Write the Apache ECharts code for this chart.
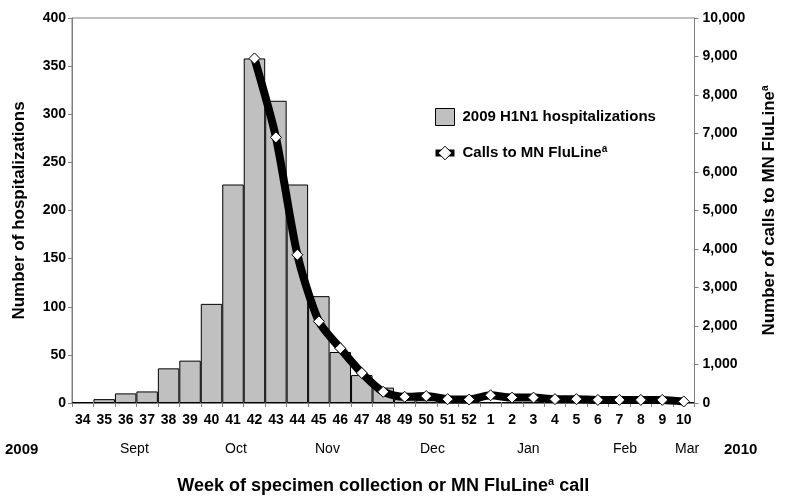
<!DOCTYPE html>
<html>
<head>
<meta charset="utf-8">
<script src="https://cdn.jsdelivr.net/npm/echarts@6/dist/echarts.min.js"></script>
<style>
  html, body { margin: 0; padding: 0; background: #fff; }
  #chart { width: 786px; height: 503px; }
</style>
</head>
<body>
<div id="chart"></div>
<script>
// week numbers (2009 week 34 through 2010 week 10)
const weeks = ["34", "35", "36", "37", "38", "39", "40", "41", "42", "43", "44", "45", "46", "47", "48", "49", "50", "51", "52", "1", "2", "3", "4", "5", "6", "7", "8", "9", "10"];

// hospitalizations per week
const hospitalizations = [1, 4, 10, 12, 36, 44, 103, 227, 358, 314, 227, 111, 53, 29, 16, 4, 3, 2, 2, 1, 1, 1, 1, 1, 1, 1, 1, 1, 1];

// calls to MN FluLine per week (line starts at week 42)
const flulineCalls = [null, null, null, null, null, null, null, null, 8950, 6900, 3850, 2120, 1420, 780, 290, 160, 180, 100, 90, 200, 140, 140, 100, 100, 80, 80, 80, 80, 40];

const leftTicks = [0, 400, 50];
const rightTicks = [0, 10000, 1000];

// month labels under the week row
const months = [
  { text: "2009", x: 5, bold: true },
  { text: "Sept", x: 120 },
  { text: "Oct", x: 225 },
  { text: "Nov", x: 315 },
  { text: "Dec", x: 420 },
  { text: "Jan", x: 517 },
  { text: "Feb", x: 613 },
  { text: "Mar", x: 675 },
  { text: "2010", x: 724, bold: true }
];

const font = "Liberation Sans, Arial, sans-serif";

let chart = echarts.init(document.getElementById("chart"));

let option = {
  animation: false,
  textStyle: { fontFamily: font },
  grid: {
    left: 72,
    right: 86,
    top: 18,
    bottom: 100,
    show: true,
    borderColor: "#808080",
    borderWidth: 1
  },
  legend: {
    orient: "vertical",
    left: 427,
    top: 103,
    itemGap: 18,
    itemWidth: 19,
    itemHeight: 17,
    textStyle: { fontSize: 15, fontWeight: "bold", color: "#000", fontFamily: font, padding: [0, 0, 0, 3],
      rich: {
        s: { fontSize: 10, fontWeight: "bold", verticalAlign: "top", padding: [0, 0, 8, 0] }
      }
    },
    formatter: function (name) {
      return name === "calls" ? "Calls to MN FluLine{s|a}" : "2009 H1N1 hospitalizations";
    },
    data: [
      { name: "hosp", icon: "rect", itemStyle: { color: "#c0c0c0", borderColor: "#000", borderWidth: 1 } },
      { name: "calls", lineStyle: { color: "#000", width: 7 }, itemStyle: { color: "#fff", borderColor: "#000", borderWidth: 1 } }
    ]
  },
  xAxis: {
    type: "category",
    data: weeks,
    axisLine: { lineStyle: { color: "#808080" } },
    axisTick: { show: true, length: 4, lineStyle: { color: "#808080" } },
    axisLabel: { color: "#000", fontWeight: "bold", fontSize: 14, margin: 10, interval: 0 },
    name: "Week of specimen collection or MN FluLine{s|a} call",
    nameLocation: "middle",
    nameGap: 73,
    nameTextStyle: {
      fontSize: 18, fontWeight: "bold", color: "#000",
      rich: { s: { fontSize: 11, fontWeight: "bold", verticalAlign: "top", padding: [0, 0, 9, 0] } }
    }
  },
  yAxis: [
    {
      type: "value",
      min: leftTicks[0],
      max: leftTicks[1],
      interval: leftTicks[2],
      splitLine: { show: false },
      axisLine: { show: true, lineStyle: { color: "#808080" } },
      axisTick: { show: true, length: 4, lineStyle: { color: "#808080" } },
      axisLabel: { color: "#000", fontWeight: "bold", fontSize: 14, margin: 6 },
      name: "Number of hospitalizations",
      nameLocation: "middle",
      nameGap: 44,
      nameTextStyle: { fontSize: 17, fontWeight: "bold", color: "#000" }
    },
    {
      type: "value",
      min: rightTicks[0],
      max: rightTicks[1],
      interval: rightTicks[2],
      splitLine: { show: false },
      axisLine: { show: true, lineStyle: { color: "#808080" } },
      axisTick: { show: true, length: 4, lineStyle: { color: "#808080" } },
      axisLabel: {
        color: "#000", fontWeight: "bold", fontSize: 14, margin: 8,
        formatter: function (v) { return v.toString().replace(/\B(?=(\d{3})+(?!\d))/g, ","); }
      },
      name: "Number of calls to MN FluLine{s|a}",
      nameLocation: "middle",
      nameGap: 66,
      nameRotate: 90,
      nameTextStyle: {
        fontSize: 17, fontWeight: "bold", color: "#000",
        rich: { s: { fontSize: 10, fontWeight: "bold", verticalAlign: "top", padding: [0, 0, 8, 0] } }
      }
    }
  ],
  graphic: months.map(function (m) {
    return {
      type: "text",
      left: m.x,
      top: 442,
      style: {
        text: m.text,
        font: (m.bold ? "bold 15px " : "14px ") + font,
        fill: "#000"
      }
    };
  }),
  series: [
    {
      name: "hosp",
      type: "bar",
      data: hospitalizations,
      barCategoryGap: 0,
      itemStyle: { color: "#c0c0c0", borderColor: "#000", borderWidth: 1 }
    },
    {
      name: "calls",
      type: "line",
      yAxisIndex: 1,
      data: flulineCalls,
      smooth: 0.25,
      lineStyle: { color: "#000", width: 8 },
      symbol: "diamond",
      symbolSize: 11,
      itemStyle: { color: "#fff", borderColor: "#000", borderWidth: 1 }
    }
  ]
};

chart.setOption(option);
</script>
</body>
</html>
